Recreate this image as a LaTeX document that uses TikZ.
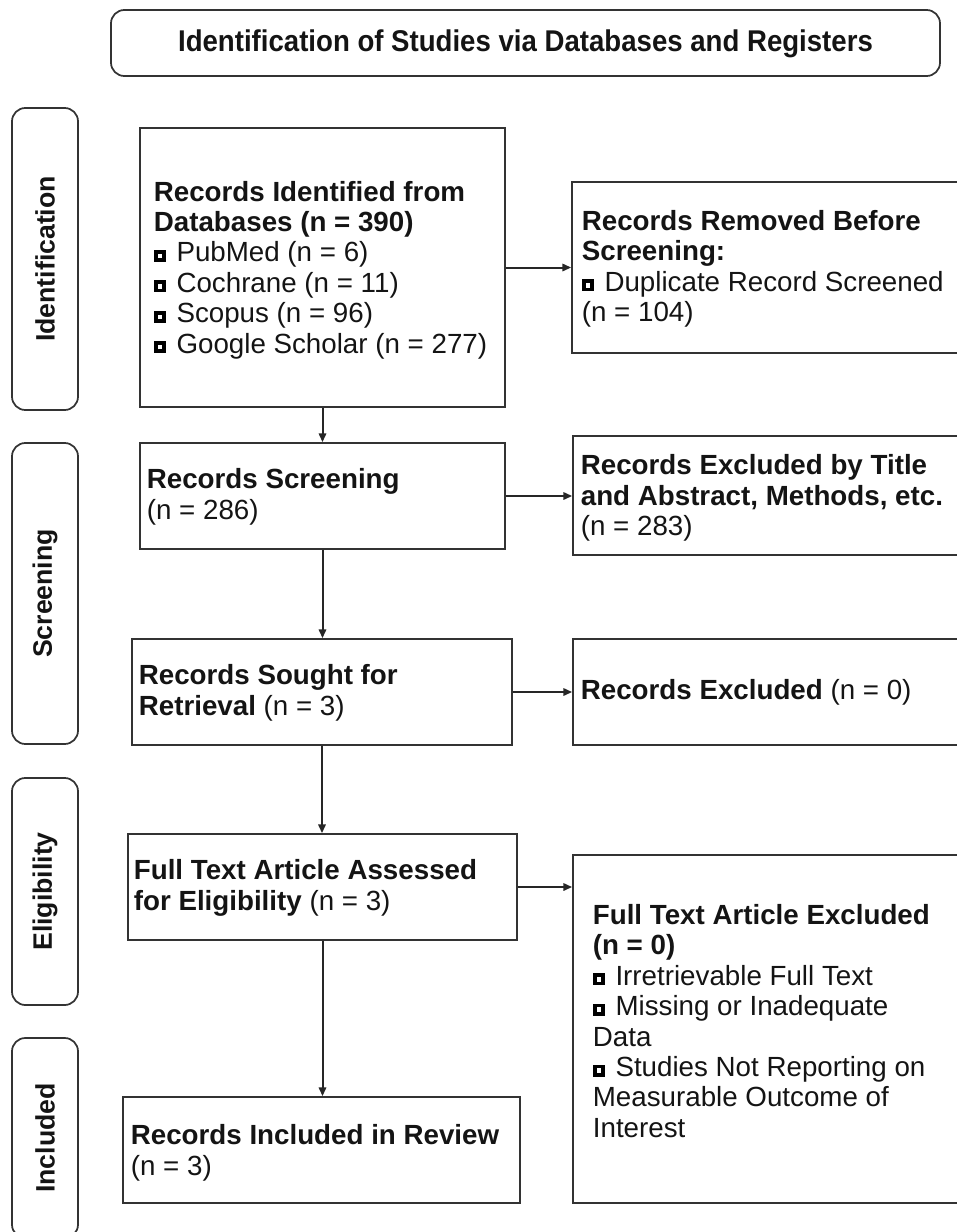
\documentclass[tikz,border=0pt]{standalone}
\usepackage{fontspec}
\setmainfont{Liberation Sans}
\usetikzlibrary{fit,arrows.meta}
\newcommand\bsq{{\color{black}\rule{9pt}{9pt}}\hspace{-6.2pt}\raisebox{2.8pt}{\color{white}\rule{3.4pt}{3.4pt}}\hspace{2.8pt}\hspace{8pt}}
\begin{document}
\begin{tikzpicture}[x=0.75pt,y=-0.75pt,
  line width=1.3pt,
  box/.style={draw=black!80, inner sep=0pt},
  phase/.style={draw=black!80, inner sep=0pt, rounded corners=10pt},
  txt/.style={anchor=west, align=left, inner sep=0pt, text=black!92, font=\fontsize{20.8}{22.8}\selectfont},
  phtxt/.style={rotate=90, inner sep=0pt, text=black!92, font=\fontsize{20}{24}\selectfont\bfseries},
  arr/.style={draw=black!85, line width=1.5pt, -{Triangle[length=6.5pt,width=5.5pt]}}]
\useasboundingbox (0,0) rectangle (957,1232);
\clip (0,0) rectangle (957,1232);

% title
\node[phase, rounded corners=10pt, fit={(111,10) (940,76)}] (title) {};
\node[inner sep=0pt, text=black!92, font=\fontsize{22.5}{26}\selectfont\bfseries] (ttl) at ([yshift=-0.5pt]title.center) {\scalebox{0.92}[1]{Identification of Studies via Databases and Registers}};

% phases
\node[phase, fit={(12,108) (78,410)}] (p1) {};
\node[phase, fit={(12,443) (78,744)}] (p2) {};
\node[phase, fit={(12,778) (78,1005)}] (p3) {};
\node[phase, fit={(12,1038) (78,1238)}] (p4) {};
\node[phtxt] (l1) at (p1.center) {Identification};
\node[phtxt] (l2) at (p2.center) {Screening};
\node[phtxt] (l3) at (p3.center) {Eligibility};
\node[phtxt] (l4) at (p4.center) {Included};

% boxes
\node[box, fit={(140,128) (505,407)}] (b1) {};
\node[box, fit={(572,182) (970,353)}] (b2) {};
\node[box, fit={(140,443) (505,549)}] (b3) {};
\node[box, fit={(573,436) (970,555)}] (b4) {};
\node[box, fit={(132,639) (512,745)}] (b5) {};
\node[box, fit={(573,639) (970,745)}] (b6) {};
\node[box, fit={(128,834) (517,940)}] (b7) {};
\node[box, fit={(573,855) (970,1203)}] (b8) {};
\node[box, fit={(123,1097) (520,1203)}] (b9) {};

% texts
\node[txt] (t1) at (153,270) {\textbf{Records Identified from}\\\textbf{Databases (n = 390)}\\\bsq PubMed (n = 6)\\\bsq Cochrane (n = 11)\\\bsq Scopus (n = 96)\\\bsq Google Scholar (n = 277)};
\node[txt] (t2) at (581,269) {\textbf{Records Removed Before}\\\textbf{Screening:}\\\bsq Duplicate Record Screened\\(n = 104)};
\node[txt] (t3) at (146,497) {\textbf{Records Screening}\\(n = 286)};
\node[txt] (t4) at (580,498) {\textbf{Records Excluded by Title}\\\textbf{and Abstract, Methods, etc.}\\(n = 283)};
\node[txt] (t5) at (138,693) {\textbf{Records Sought for}\\\textbf{Retrieval} (n = 3)};
\node[txt] (t6) at (580,692) {\textbf{Records Excluded} (n = 0)};
\node[txt] (t7) at (133,888) {\textbf{Full Text Article Assessed}\\\textbf{for Eligibility} (n = 3)};
\node[txt] (t8) at (592,1021) {\textbf{Full Text Article Excluded}\\\textbf{(n = 0)}\\\bsq Irretrievable Full Text\\\bsq Missing or Inadequate\\Data\\\bsq Studies Not Reporting on\\Measurable Outcome of\\Interest};
\node[txt] (t9) at (130,1153) {\textbf{Records Included in Review}\\(n = 3)};

% arrows
\draw[arr] (b1.east) -- (b1.east -| b2.west);
\draw[arr] (b1.south) -- (b1.south |- b3.north);
\draw[arr] (b3.east) -- (b3.east -| b4.west);
\draw[arr] (b3.south) -- (b3.south |- b5.north);
\draw[arr] (b5.east) -- (b5.east -| b6.west);
\draw[arr] (b5.south) -- (b5.south |- b7.north);
\draw[arr] (b7.east) -- (b7.east -| b8.west);
\draw[arr] (b7.south) -- (b7.south |- b9.north);
\end{tikzpicture}
\end{document}
